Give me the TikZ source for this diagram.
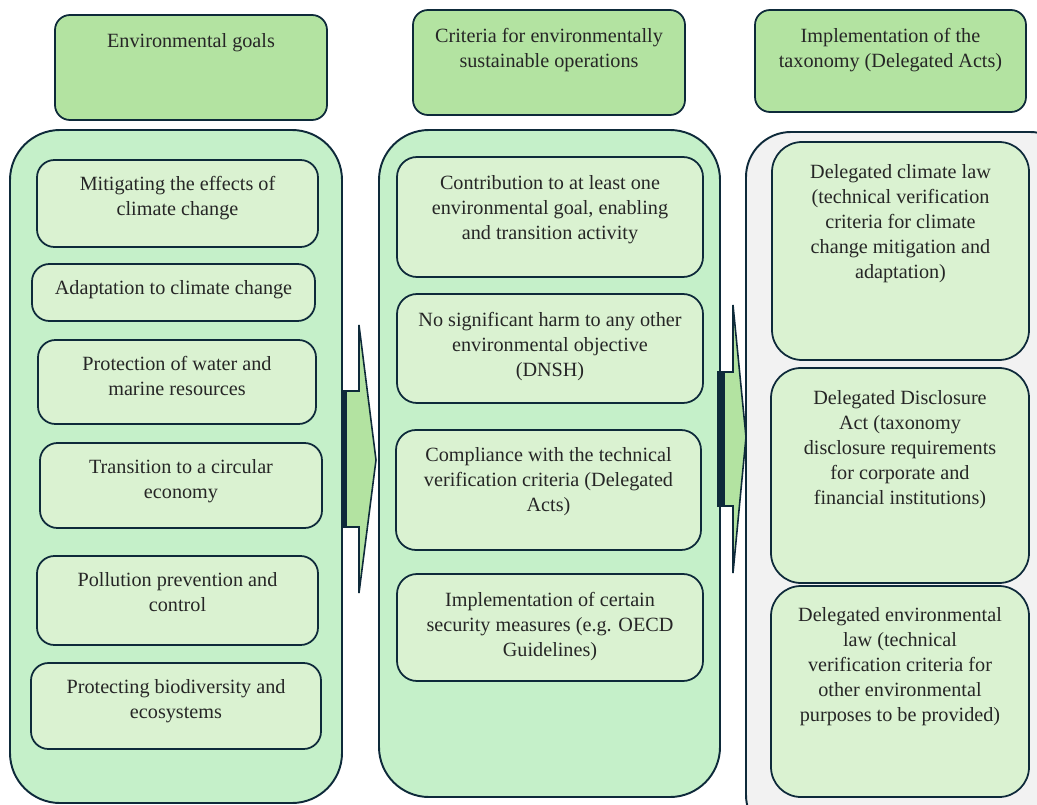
\documentclass[tikz,border=0pt]{standalone}
\usepackage{fontspec}
\setmainfont{Liberation Serif}
\usetikzlibrary{positioning,fit}
\definecolor{edge}{HTML}{0E2A3A}
\definecolor{headfill}{HTML}{B3E3A1}
\definecolor{panelfill}{HTML}{C5F0C9}
\definecolor{itemfill}{HTML}{DAF2D1}
\definecolor{greypanel}{HTML}{F2F2F2}
\tikzset{
  head/.style={draw=edge, line width=1pt, fill=headfill, rounded corners=0.3cm, inner sep=0pt},
  panel/.style={draw=edge, line width=1.1pt, fill=panelfill, rounded corners=1cm, inner sep=0pt},
  item/.style={draw=edge, line width=1pt, fill=itemfill, rounded corners=0.35cm, inner sep=0pt},
  txt/.style={align=center, inner sep=0pt, font=\fontsize{11.5}{14.2}\selectfont, text=black!85},
  blockarrow/.style={draw=edge, line width=0.9pt, fill=headfill},
}
\begin{document}
\begin{tikzpicture}[x=0.02cm, y=-0.02cm]
  \clip (0,0) rectangle (1037,804);
  \fill[white] (0,0) rectangle (1037,804);
  % panels
  \node[panel, fit={(10,130) (342,803)}] (goals) {};
  \node[panel, fit={(379,130) (720,797)}] (crit) {};
  \node[panel, fill=greypanel, rounded corners=0.9cm, fit={(746,132) (1075,840)}] (acts) {};
  % arrows
  \draw[blockarrow] (342,391) -- (359,391) -- (359,325) -- (376,460) -- (359,593) -- (359,527) -- (342,527) -- cycle;
  \fill[edge] (342,391) rectangle (347,527);
  \draw[blockarrow] (718,372) -- (733,372) -- (733,305) -- (746,437) -- (733,573) -- (733,506) -- (718,506) -- cycle;
  \fill[edge] (718,372) rectangle (725,506);
  % headers
  \node[head, fit={(55,15) (327,120)}] (h1) {};
  \node[txt, below=0.38cm of h1.north] (h1t) {Environmental goals};
  \node[head, fit={(413,10) (685,115)}] (h2) {};
  \node[txt, below=0.38cm of h2.north] (h2t) {Criteria for environmentally\\sustainable operations};
  \node[head, fit={(755,10) (1026,112)}] (h3) {};
  \node[txt, below=0.38cm of h3.north] (h3t) {Implementation of the\\taxonomy (Delegated Acts)};
  % environmental goals
  \node[item, fit={(37,160) (318,247)}] (g1) {};
  \node[txt, below=0.34cm of g1.north] (g1t) {Mitigating the effects of\\climate change};
  \node[item, fit={(32,264) (315,321)}] (g2) {};
  \node[txt, below=0.34cm of g2.north] (g2t) {Adaptation to climate change};
  \node[item, fit={(38,340) (316,424)}] (g3) {};
  \node[txt, below=0.34cm of g3.north] (g3t) {Protection of water and\\marine resources};
  \node[item, fit={(40,443) (322,528)}] (g4) {};
  \node[txt, below=0.34cm of g4.north] (g4t) {Transition to a circular\\economy};
  \node[item, fit={(37,556) (318,645)}] (g5) {};
  \node[txt, below=0.34cm of g5.north] (g5t) {Pollution prevention and\\control};
  \node[item, fit={(31,663) (321,749)}] (g6) {};
  \node[txt, below=0.34cm of g6.north] (g6t) {Protecting biodiversity and\\ecosystems};
  % criteria
  \node[item, rounded corners=0.4cm, fit={(397,157) (703,277)}] (c1) {};
  \node[txt, below=0.38cm of c1.north] (c1t) {Contribution to at least one\\environmental goal, enabling\\and transition activity};
  \node[item, rounded corners=0.4cm, fit={(397,294) (703,403)}] (c2) {};
  \node[txt, below=0.38cm of c2.north] (c2t) {No significant harm to any other\\environmental objective\\(DNSH)};
  \node[item, rounded corners=0.4cm, fit={(396,430) (701,550)}] (c3) {};
  \node[txt, below=0.36cm of c3.north] (c3t) {Compliance with the technical\\verification criteria (Delegated\\Acts)};
  \node[item, rounded corners=0.4cm, fit={(397,574) (703,681)}] (c4) {};
  \node[txt, below=0.38cm of c4.north] (c4t) {Implementation of certain\\security measures (e.g. OECD\\Guidelines)};
  % delegated acts
  \node[item, rounded corners=0.6cm, fit={(772,142) (1029,360)}] (a1) {};
  \node[txt, below=0.46cm of a1.north] (a1t) {Delegated climate law\\(technical verification\\criteria for climate\\change mitigation and\\adaptation)};
  \node[item, rounded corners=0.6cm, fit={(771,368) (1029,583)}] (a2) {};
  \node[txt, below=0.46cm of a2.north] (a2t) {Delegated Disclosure\\Act (taxonomy\\disclosure requirements\\for corporate and\\financial institutions)};
  \node[item, rounded corners=0.6cm, fit={(771,586) (1029,797)}] (a3) {};
  \node[txt, below=0.44cm of a3.north] (a3t) {Delegated environmental\\law (technical\\verification criteria for\\other environmental\\purposes to be provided)};
\end{tikzpicture}
\end{document}
